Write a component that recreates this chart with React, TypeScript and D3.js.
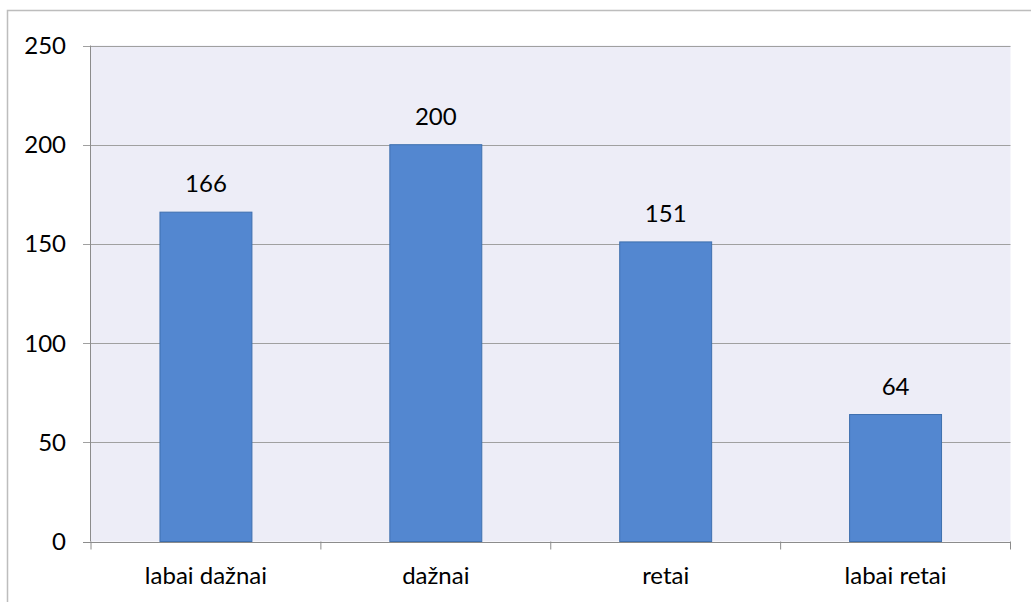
import React from "react";
import * as d3 from "d3";

const categories = ["labai dažnai", "dažnai", "retai", "labai retai"];
const values = [166, 200, 151, 64];
const yTicks = [0, 50, 100, 150, 200, 250];

export default function App() {
  const W = 1031, H = 602;
  const left = 91, right = 1010.5, top = 45.5, bottom = 541.5;
  const x = d3.scaleBand<string>().domain(categories).range([left, right]).paddingInner(0.6).paddingOuter(0.3);
  const xb = d3.scaleBand<string>().domain(categories).range([left, right]);
  const y = d3.scaleLinear().domain([0, 250]).range([bottom, top]);
  const font = "Lato, 'Liberation Sans', Arial, sans-serif";
  const fs = 24;
  return (
    <svg width={W} height={H} style={{ position: "absolute", left: 0, top: 0 }}>
      <rect x={0} y={0} width={W} height={H} fill="#fff" />
      <rect x={7.5} y={10.5} width={1100} height={700} fill="none" stroke="#bdbdbd" strokeWidth={1.5} />
      <rect x={left} y={top} width={right - left} height={bottom - top} fill="#ededf7" />
      {yTicks.map((t) => (
        <g key={t}>
          <line x1={left - 8} x2={right} y1={Math.round(y(t)) + 0.5} y2={Math.round(y(t)) + 0.5} stroke={t === 0 ? "#8c8c8c" : "#a0a0a0"} strokeWidth={1} />
          <text x={66} y={y(t)} dy="0.35em" textAnchor="end" fontFamily={font} fontSize={fs} fill="#000">{t}</text>
        </g>
      ))}
      <line x1={left - 0.5} x2={left - 0.5} y1={top} y2={bottom} stroke="#8c8c8c" />
      {categories.map((c, i) => (
        <line key={"t" + i} x1={xb(c)!} x2={xb(c)!} y1={bottom} y2={bottom + 8} stroke="#8c8c8c" />
      ))}
      <line x1={right} x2={right} y1={bottom} y2={bottom + 8} stroke="#8c8c8c" />
      {categories.map((c, i) => (
        <g key={c}>
          <rect x={x(c)!} y={y(values[i])} width={x.bandwidth()} height={bottom - y(values[i])} fill="#5387d0" stroke="#3e6fae" strokeWidth={1} />
          <text x={x(c)! + x.bandwidth() / 2} y={y(values[i]) - 20} textAnchor="middle" fontFamily={font} fontSize={fs} fill="#000">{values[i]}</text>
          <text x={xb(c)! + xb.bandwidth() / 2} y={584} textAnchor="middle" fontFamily={font} fontSize={fs} fill="#000">{c}</text>
        </g>
      ))}
    </svg>
  );
}
